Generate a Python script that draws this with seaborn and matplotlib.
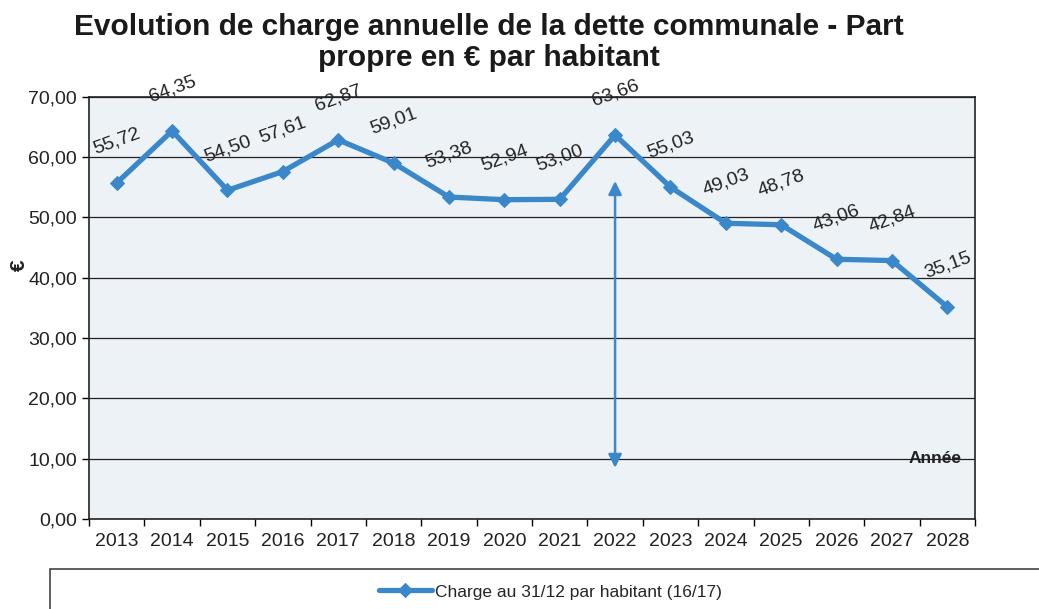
import matplotlib
matplotlib.use("Agg")
import matplotlib.pyplot as plt
import seaborn as sns
import pandas as pd
from matplotlib.patches import Rectangle
from matplotlib.ticker import FixedLocator, FuncFormatter

years = ["2013", "2014", "2015", "2016", "2017", "2018", "2019", "2020",
         "2021", "2022", "2023", "2024", "2025", "2026", "2027", "2028"]
charge = [55.72, 64.35, 54.50, 57.61, 62.87, 59.01, 53.38, 52.94,
          53.00, 63.66, 55.03, 49.03, 48.78, 43.06, 42.84, 35.15]
series_name = "Charge au 31/12 par habitant (16/17)"
title = "Evolution de charge annuelle de la dette communale - Part\npropre en € par habitant"

sns.set_theme(style="white")
plt.rcParams['font.family'] = ['Liberation Sans', 'DejaVu Sans']

df = pd.DataFrame({"Année": years, "Charge": charge})
df["pos"] = range(len(years))

fig = plt.figure(figsize=(10.39, 6.09), dpi=100)
ax = fig.add_axes([0.0857, 0.148, 0.8527, 0.693])
ax.set_facecolor("#edf2f7")

color = "#3a88c9"
sns.lineplot(data=df, x="pos", y="Charge", ax=ax, color=color, lw=3.8,
             marker="D", markersize=7.5, markeredgecolor=color, label=series_name,
             legend=False)

ax.set_xlim(-0.5, len(years) - 0.5)
ax.set_ylim(0, 70)
ax.set_yticks(range(0, 71, 10))
ax.yaxis.set_major_formatter(FuncFormatter(lambda v, p: f"{v:.2f}".replace(".", ",")))
ax.set_xticks(df["pos"])
ax.set_xticklabels(years)
ax.xaxis.set_minor_locator(FixedLocator([i - 0.5 for i in range(len(years) + 1)]))
ax.tick_params(axis="x", which="major", length=0, pad=10, labelsize=14, labelcolor="#222222")
ax.tick_params(axis="x", which="minor", length=5, width=1, color="black", direction="out", bottom=True)
ax.tick_params(axis="y", which="major", length=5, width=1, color="black", direction="out",
               left=True, labelsize=14, labelcolor="#222222")
ax.grid(axis="y", color="#222222", lw=0.9)
ax.set_axisbelow(True)
for s in ax.spines.values():
    s.set_color("#222222")
    s.set_linewidth(1.2)

ax.set_xlabel("")
ax.set_ylabel("")
fig.text(0.019, 0.565, "€", rotation=90, ha="center", va="center", fontsize=15,
         fontweight="bold", color="#222222")

for x, v in zip(df["pos"], charge):
    ax.annotate(f"{v:.2f}".replace(".", ","), (x, v), xytext=(0, 30),
                textcoords="offset points", ha="center", va="center",
                rotation=20, fontsize=14, color="#222222")

ax.annotate("", xy=(9, 8), xytext=(9, 56.5),
            arrowprops=dict(arrowstyle="<|-|>", color=color, lw=1.8,
                            mutation_scale=20))

ax.text(15.25, 10, "Année", ha="right", va="center", fontsize=12.5, fontweight="bold",
        color="#222222")

fig.text(0.471, 0.978, title, ha="center", va="top", fontsize=21.5, fontweight="bold",
         color="#1a1a1a", linespacing=1.12)

fig.patches.append(Rectangle((0.048, -0.01), 0.96, 0.075, transform=fig.transFigure,
                             fill=False, edgecolor="#444444", lw=1.2))
handles, labels = ax.get_legend_handles_labels()
fig.legend(handles, labels, loc="center", bbox_to_anchor=(0.53, 0.028), frameon=False,
           fontsize=12.5, handlelength=3, handletextpad=0.2)

fig.savefig("out.png", dpi=100)
